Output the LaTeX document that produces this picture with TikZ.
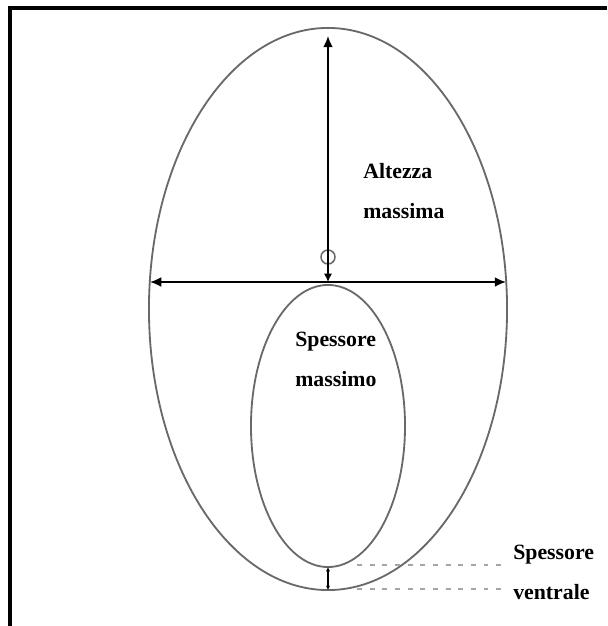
\documentclass[tikz,border=0pt]{standalone}
\usepackage{fontspec}
\setmainfont{Liberation Serif}
\usepackage{xcolor}
\usetikzlibrary{shapes.geometric,arrows.meta}
\definecolor{outline}{RGB}{105, 105, 105}
\definecolor{dots}{RGB}{165, 165, 165}

\begin{document}
\begin{tikzpicture}[x=0.025cm, y=0.025cm, every node/.style={align=left, font=\bfseries\fontsize{15.5}{28.5}\selectfont, inner sep=0pt}]
\useasboundingbox (0,0) rectangle (607,626);
% Frame
\draw[line width=2.2pt] (10,0) -- (10,618) -- (607,618);

% Ellipses
\node[draw=outline, line width=1.3pt, ellipse, minimum width=8.95cm, minimum height=14.05cm, outer sep=0pt] (big) at (328,317) {};
\node[draw=outline, line width=1.3pt, ellipse, minimum width=3.85cm, minimum height=7.05cm, outer sep=0pt] (small) at (328,200) {};

% Points
\coordinate (left) at (150,344);
\coordinate (right) at (506,344);
\coordinate (mid) at (328,344);
\coordinate (top) at (328,590);
\node[draw=outline, line width=1.1pt, circle, minimum size=0.35cm] (pivot) at (328,369) {};

% Arrows
\draw[{Latex[length=8pt,width=7pt]}-{Latex[length=8pt,width=7pt]}, line width=1.2pt] (left) -- (right);
\draw[{Latex[length=8pt,width=7pt]}-{Latex[length=6pt,width=6pt]}, line width=1.2pt] (top) -- (mid);
\draw[{Latex[length=3pt,width=3pt]}-{Latex[length=3pt,width=3pt]}, line width=1pt] (small.south) -- (big.south);

% Dotted guides
\coordinate (g1a) at (357,61);
\coordinate (g1b) at (502,61);
\coordinate (g2a) at (357,37);
\coordinate (g2b) at (502,37);
\draw[dots, line width=2pt, dash pattern=on 3.5pt off 5.5pt] (g1a) -- (g1b);
\draw[dots, line width=2pt, dash pattern=on 3.5pt off 5.5pt] (g2a) -- (g2b);

% Labels
\node[anchor=west] (altezza) at (363,435) {Altezza\\massima};
\node[anchor=west] (spessore) at (295,267) {Spessore\\massimo};
\node[anchor=west] (ventrale) at (513,54) {Spessore\\ventrale};
\end{tikzpicture}
\end{document}
